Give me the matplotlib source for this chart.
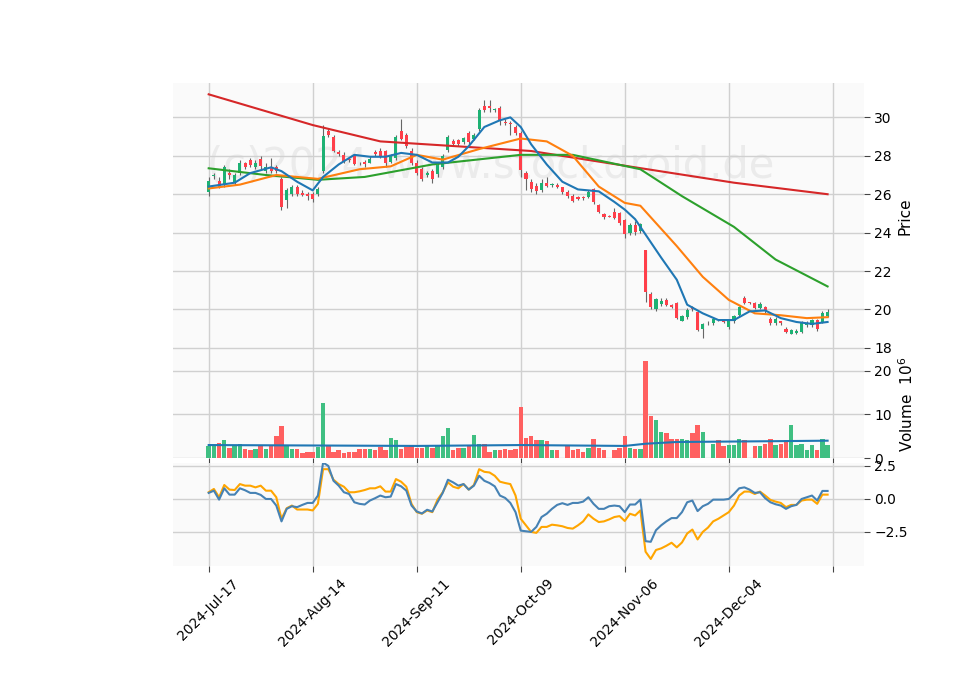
import matplotlib
matplotlib.use("Agg")
import matplotlib.pyplot as plt
import numpy as np

tick_labels = ["2024-Jul-17", "2024-Aug-14", "2024-Sep-11", "2024-Oct-09", "2024-Nov-06", "2024-Dec-04", ""]
tick_index = [0, 20, 40, 60, 80, 100, 120]

oc = [(26.1,26.7),(26.95,27.0),(26.7,26.4),(26.5,27.4),(27.1,27.0),(26.6,27.0),(27.1,27.6),(27.6,27.4),(27.8,27.5),(27.4,27.6),
(27.85,27.45),(27.2,27.43),(27.43,27.2),(27.4,27.2),(26.8,25.35),(25.7,26.2),(26.0,26.4),(26.4,26.0),(26.05,25.95),(26.0,25.9),
(26.0,25.75),(26.0,26.25),(27.2,29.05),(29.3,29.1),(29.0,28.25),(28.2,28.1),(28.05,27.7),(27.85,27.8),(28.0,27.55),(27.65,27.6),
(27.7,27.55),(27.65,27.85),(28.2,28.1),(28.25,28.0),(28.25,27.6),(27.7,28.0),(27.9,29.0),(29.3,28.9),(29.1,28.5),(28.25,27.65),
(27.65,27.1),(27.3,26.8),(27.0,27.1),(27.2,26.8),(27.05,27.5),(27.4,28.0),(28.3,29.0),(28.75,28.6),(28.8,28.6),(28.7,28.95),
(29.2,28.7),(28.85,29.1),(29.4,30.4),(30.6,30.4),(30.6,30.5),(30.38,30.42),(30.5,29.85),(29.78,29.72),(29.7,29.65),(29.5,29.2),
(29.2,27.25),(27.1,26.8),(26.65,26.25),(26.45,26.15),(26.2,26.6),(26.6,26.45),(26.47,26.52),(26.5,26.4),(26.35,26.1),(26.1,25.9),
(25.9,25.65),(25.85,25.75),(25.85,25.8),(25.85,26.1),(26.25,25.6),(25.45,25.05),(24.95,24.8),(24.87,24.83),(25.1,24.75),(25.0,24.5),
(24.65,23.95),(24.0,24.4),(24.4,24.05),(24.1,24.45),(23.1,20.9),(20.8,20.15),(20.05,20.55),(20.3,20.45),(20.5,20.25),(20.25,20.15),
(20.35,19.55),(19.4,19.65),(19.6,19.95),(20.15,20.0),(19.85,18.95),(19.0,19.25),(19.32,19.28),(19.3,19.5),(19.47,19.43),(19.45,19.35),
(19.1,19.4),(19.4,19.65),(19.7,20.15),(20.6,20.35),(20.37,20.33),(20.35,20.1),(20.1,20.3),(20.15,19.9),(19.5,19.3),(19.3,19.5),
(19.4,19.3),(19.0,18.85),(18.75,18.95),(18.8,18.9),(18.85,19.35),(19.2,19.3),(19.2,19.45),(19.45,19.0),(19.35,19.8),(19.65,19.85)]
opens = [a for a, b in oc]
closes = [b for a, b in oc]

highs = [26.9,27.1,26.9,27.5,27.3,27.1,27.8,27.7,27.9,27.8,28.0,27.6,27.9,27.5,26.9,26.3,26.5,26.5,26.2,26.1,
26.1,26.4,29.6,29.4,29.1,28.3,28.2,27.9,28.1,27.7,27.8,28.0,28.3,28.4,28.3,28.1,29.1,29.9,29.2,28.4,
27.8,27.4,27.2,27.3,27.6,28.1,29.1,28.9,28.9,29.0,29.3,29.2,30.5,30.9,30.9,30.5,30.6,29.9,29.8,29.6,
29.3,27.2,26.8,26.6,26.8,26.9,26.6,26.6,26.4,26.2,26.0,25.9,25.9,26.2,26.3,25.5,25.0,24.9,25.3,25.1,
24.7,24.5,24.6,24.5,23.1,20.9,20.6,20.6,20.6,20.3,20.4,19.7,20.1,20.2,19.9,19.3,19.4,19.6,19.5,19.5,
19.5,19.7,20.2,20.7,20.4,20.4,20.4,20.2,19.6,19.6,19.4,19.1,19.0,19.0,19.4,19.4,19.5,19.5,19.9,20.0]
lows = [25.9,26.8,26.3,26.4,26.8,26.5,27.0,27.3,27.4,27.3,27.3,27.1,27.1,27.1,25.2,25.3,25.9,25.9,25.9,25.7,
25.6,25.9,27.1,29.0,28.2,28.0,27.6,27.7,27.5,27.5,27.4,27.6,28.0,27.9,27.4,27.6,27.8,28.8,28.4,27.5,
27.0,26.7,26.9,26.6,26.9,27.3,28.2,28.5,28.5,28.6,28.6,28.8,29.3,30.3,30.3,30.3,29.6,29.6,29.1,29.1,
26.9,26.2,26.1,26.0,26.1,26.4,26.4,26.3,26.0,25.8,25.6,25.7,25.7,25.8,25.5,25.0,24.7,24.8,24.7,24.4,
23.7,23.9,23.9,24.0,20.4,20.0,19.9,20.2,20.2,20.1,19.5,19.4,19.5,19.9,18.9,18.5,19.2,19.2,19.4,19.3,
19.0,19.3,19.6,20.3,20.3,20.0,20.0,19.8,19.2,19.2,19.2,18.8,18.7,18.7,18.8,19.1,19.1,18.9,19.3,19.6]

volume = [2.8,2.8,3.5,4.1,2.4,2.8,3.3,2.1,1.8,2.1,2.7,2.0,2.7,5.0,7.3,2.8,2.1,2.0,1.2,1.5,
1.5,2.5,12.6,2.8,1.5,1.8,1.2,1.5,1.5,2.0,2.0,2.0,1.8,2.5,1.8,4.7,4.1,2.1,2.5,3.1,
2.3,2.3,2.8,2.3,2.8,5.0,7.0,1.8,2.3,2.3,2.8,5.2,3.3,3.3,1.5,1.8,1.8,2.0,1.8,2.0,
11.6,4.7,5.0,4.1,4.1,3.9,1.8,1.8,0.0,2.9,1.8,2.0,1.5,2.3,4.4,2.3,1.8,0.0,1.8,2.3,
5.0,2.3,2.0,2.0,22.2,9.6,8.7,6.1,5.7,4.4,4.4,4.4,4.2,5.7,7.7,6.0,0.0,3.3,4.2,2.7,
3.1,3.1,4.4,4.2,0.0,2.7,2.7,3.3,4.4,3.1,3.3,4.2,7.7,2.9,3.3,1.8,3.1,1.8,4.4,2.9]

vol_ma_idx = [0, 20, 40, 60, 70, 80, 84, 90, 100, 110, 119]
vol_ma = [3.0, 2.9, 2.8, 3.0, 2.9, 2.8, 3.3, 3.7, 3.8, 3.9, 4.0]

ma_blue_idx = [0,5,8,12,14,17,20,22,25,28,31,34,37,40,43,46,48,50,53,56,58,60,62,65,68,71,75,78,80,82,84,87,90,92,95,98,101,104,107,110,113,116,119]
ma_blue = [26.4,26.6,27.1,27.4,27.2,26.65,26.2,26.9,27.55,28.05,27.95,27.95,28.15,28.05,27.65,27.65,27.95,28.5,29.5,29.85,30.0,29.5,28.6,27.55,26.65,26.25,26.15,25.6,25.2,24.7,23.9,22.7,21.55,20.25,19.8,19.45,19.45,19.9,19.95,19.55,19.35,19.25,19.35]
ma_orange_idx = [0,6,13,21,29,35,40,45,52,60,65,70,75,80,83,90,95,100,105,110,115,119]
ma_orange = [26.3,26.5,27.0,26.8,27.3,27.45,28.05,27.8,28.35,28.9,28.75,28.0,26.4,25.55,25.4,23.3,21.7,20.5,19.8,19.7,19.55,19.6]
ma_green_idx = [0,11,21,30,43,60,70,83,91,101,109,119]
ma_green = [27.35,27.0,26.75,26.9,27.55,28.05,28.05,27.3,25.9,24.3,22.6,21.2]
ma_red_idx = [0,20,33,62,82,101,119]
ma_red = [31.2,29.6,28.75,28.25,27.4,26.6,26.0]

osc_blue = [0.43,0.6,-0.08,0.78,0.3,0.3,0.78,0.63,0.43,0.43,0.28,-0.03,-0.03,-0.53,-1.73,-0.78,-0.58,-0.65,-0.48,-0.33,
-0.33,0.23,2.73,2.48,1.35,0.98,0.48,0.35,-0.28,-0.4,-0.45,-0.15,0.03,0.23,0.1,0.15,1.1,0.93,0.6,-0.53,
-0.98,-1.13,-0.85,-0.98,-0.28,0.43,1.43,1.23,0.98,1.1,0.68,0.98,1.73,1.35,1.18,0.93,0.23,0.05,-0.33,-1.03,
-2.43,-2.48,-2.53,-2.15,-1.4,-1.15,-0.78,-0.48,-0.35,-0.48,-0.33,-0.33,-0.23,0.1,-0.4,-0.78,-0.78,-0.58,-0.53,-0.58,
-1.03,-0.45,-0.45,-0.08,-3.23,-3.28,-2.4,-2.03,-1.73,-1.48,-1.48,-1.03,-0.28,-0.15,-0.95,-0.58,-0.4,-0.08,-0.08,-0.08,
-0.03,0.35,0.78,0.85,0.68,0.43,0.48,0.03,-0.28,-0.43,-0.53,-0.78,-0.58,-0.48,-0.03,0.1,0.23,-0.15,0.58,0.58]
osc_orange = [0.48,0.73,0.1,1.03,0.68,0.65,1.1,0.98,0.98,0.85,0.98,0.6,0.6,0.1,-1.53,-0.73,-0.53,-0.83,-0.83,-0.83,
-0.9,-0.4,2.23,2.23,1.43,1.1,0.9,0.48,0.48,0.55,0.65,0.78,0.78,0.93,0.53,0.53,1.48,1.28,0.9,-0.4,
-1.03,-1.15,-0.9,-1.03,-0.08,0.48,1.23,0.9,0.78,1.1,0.68,1.03,2.23,2.03,1.98,1.73,1.28,1.18,1.1,0.23,
-1.53,-2.03,-2.53,-2.6,-2.15,-2.15,-1.98,-2.03,-2.1,-2.23,-2.28,-2.03,-1.73,-1.2,-1.53,-1.78,-1.73,-1.58,-1.4,-1.33,
-1.7,-1.15,-1.28,-0.9,-4.03,-4.58,-3.9,-3.78,-3.58,-3.35,-3.7,-3.33,-2.65,-2.35,-3.1,-2.53,-2.2,-1.73,-1.53,-1.28,
-1.03,-0.53,0.23,0.53,0.53,0.35,0.53,0.23,-0.1,-0.23,-0.33,-0.65,-0.48,-0.48,-0.15,-0.08,-0.08,-0.4,0.3,0.3]

UP, DOWN = "#1db173", "#ff3f4a"
VUP, VDOWN = "#3fbf82", "#ff6060"
BG = "#fafafa"
GRID = "#d0d0d0"

fig = plt.figure(figsize=(9.6, 6.9), dpi=100)
axp = fig.add_axes([0.180, 0.493, 0.720, 0.387])
axv = fig.add_axes([0.180, 0.336, 0.720, 0.157], sharex=axp)
axo = fig.add_axes([0.180, 0.180, 0.720, 0.149], sharex=axp)

n = len(opens)
x = np.arange(n)
for ax in (axp, axv, axo):
    ax.set_facecolor(BG)
    ax.grid(True, color=GRID, lw=1)
    ax.set_axisbelow(True)
    for s in ax.spines.values():
        s.set_visible(False)
    ax.yaxis.tick_right()
    ax.yaxis.set_label_position("right")
    ax.tick_params(labelsize=10, length=4, color="#444")

axp.text(0.46, 0.69, "(c)2024 www.stockdroid.de", transform=axp.transAxes, fontsize=30,
         color="#ebebeb", ha="center", va="center", zorder=0)

for i in range(n):
    o, c = opens[i], closes[i]
    col = UP if c >= o else DOWN
    axp.vlines(x[i], lows[i], highs[i], color="#666666", lw=0.8, zorder=2)
    axp.bar(x[i], max(abs(c - o), 0.04), bottom=min(o, c), width=0.6, color=col, zorder=3)

axp.plot(ma_red_idx, ma_red, color="#d62728", lw=1.5, zorder=4)
axp.plot(ma_green_idx, ma_green, color="#2ca02c", lw=1.5, zorder=4)
axp.plot(ma_orange_idx, ma_orange, color="#ff7f0e", lw=1.5, zorder=4)
axp.plot(ma_blue_idx, ma_blue, color="#1f77b4", lw=1.5, zorder=4)
axp.set_ylim(17.9, 31.8)
axp.set_yticks([18, 20, 22, 24, 26, 28, 30])
axp.set_ylabel("Price", fontsize=11)
axp.tick_params(axis="x", labelbottom=False)

vcols = [VUP if closes[i] >= opens[i] else VDOWN for i in range(n)]
axv.bar(x, volume, width=0.85, color=vcols, zorder=2)
axv.plot(vol_ma_idx, vol_ma, color="#1f77b4", lw=1.5, zorder=3)
axv.set_ylim(0, 24.8)
axv.set_yticks([0, 10, 20])
axv.set_ylabel("Volume  $10^6$", fontsize=11)
axv.tick_params(axis="x", labelbottom=False)

axo.plot(x, osc_orange, color="orange", lw=1.5)
axo.plot(x, osc_blue, color="steelblue", lw=1.5)
axo.set_ylim(-5.1, 2.7)
axo.set_yticks([-2.5, 0.0, 2.5])

axo.set_xlim(-6.9, 126)
axo.set_xticks(tick_index)
axo.set_xticklabels(tick_labels, rotation=45, ha="center")

fig.savefig("out.png", dpi=100, facecolor="white")
